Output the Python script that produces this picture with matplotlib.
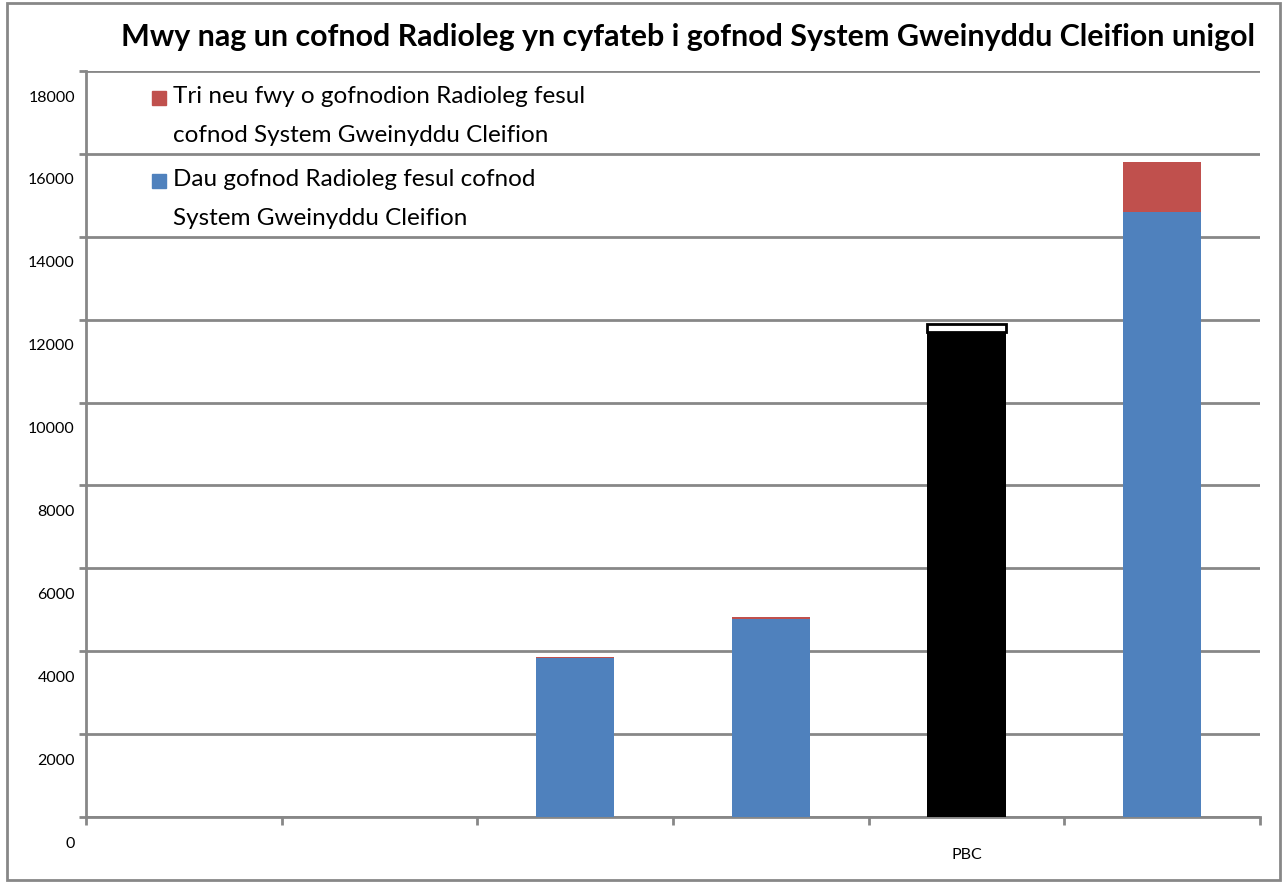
import numpy as np
import matplotlib.pyplot as plt
import matplotlib.transforms as mtransforms
from matplotlib.patches import Rectangle

plt.rcParams['font.family'] = ['Lato', 'DejaVu Sans']

# Data
categories = ["", "", "", "", "PBC", ""]
dau_gofnod = [0, 0, 3840, 4780, 11700, 14600]   # two radiology records per PAS record
tri_neu_fwy = [0, 0, 30, 50, 190, 1200]          # three or more radiology records
series_names = ["Tri neu fwy o gofnodion Radioleg fesul\ncofnod System Gweinyddu Cleifion",
                "Dau gofnod Radioleg fesul cofnod\nSystem Gweinyddu Cleifion"]
title = "Mwy nag un cofnod Radioleg yn cyfateb i gofnod System Gweinyddu Cleifion unigol"

blue = '#4F81BD'
red = '#C0504D'
grey = '#878787'

fig = plt.figure(figsize=(12.84, 8.83), dpi=100)
ax = fig.add_axes([86/1284, 1 - 817/883, (1260 - 86)/1284, (817 - 71)/883])

x = np.arange(len(categories))
# the PBC bar is picked out in black, with its top segment left white
bottom_colors = [blue, blue, blue, blue, 'black', blue]
top_colors = [red, red, red, red, 'white', red]
top_edges = ['none', 'none', 'none', 'none', 'black', 'none']
top_lw = [0, 0, 0, 0, 2, 0]

ax.bar(x, dau_gofnod, width=0.4, color=bottom_colors, zorder=3)
ax.bar(x, tri_neu_fwy, width=0.4, bottom=dau_gofnod, color=top_colors,
       edgecolor=top_edges, linewidth=top_lw, zorder=3)

ax.set_xlim(-0.5, len(categories) - 0.5)
ax.set_ylim(0, 18000)

# y axis: gridlines every 2000, labels sit a little below their line
ax.set_yticks(np.arange(0, 18001, 2000))
ax.set_yticklabels([str(v) for v in range(0, 18001, 2000)], fontsize=11.5)
ax.yaxis.grid(True, color=grey, linewidth=2, zorder=0)
ax.tick_params(axis='y', length=5, width=2, color=grey, pad=3)
shift = mtransforms.ScaledTranslation(0, -0.25, fig.dpi_scale_trans)
for lab in ax.get_yticklabels():
    lab.set_transform(lab.get_transform() + shift)

# x axis: tick marks between categories, labels under the bars
ax.set_xticks(np.arange(-0.5, len(categories), 1.0))
ax.set_xticklabels([])
ax.set_xticks(x, minor=True)
ax.set_xticklabels(categories, minor=True, fontsize=11.5)
ax.tick_params(axis='x', which='major', length=6, width=2, color=grey, direction='out')
ax.tick_params(axis='x', which='minor', length=0, pad=22)

for side in ['top', 'right']:
    ax.spines[side].set_visible(False)
for side in ['left', 'bottom']:
    ax.spines[side].set_color(grey)
    ax.spines[side].set_linewidth(2)

# legend drawn by hand, red entry first
leg_colors = [red, blue]
leg_y = [97, 180]
for name, c, yy in zip(series_names, leg_colors, leg_y):
    fig.patches.append(Rectangle((152/1284, 1 - (yy + 8)/883), 14/1284, 14/883,
                                 transform=fig.transFigure, color=c))
    fig.text(173/1284, 1 - (yy - 11)/883, name, fontsize=17.5, va='top',
             linespacing=2.05)

fig.text(688/1284, 1 - 37/883, title, fontsize=21.9, fontweight='bold',
         ha='center', va='center')

# grey frame round the whole chart
fig.patches.append(Rectangle((7/1284, 3/883), 1273/1284, 877/883, transform=fig.transFigure,
                             fill=False, edgecolor=grey, linewidth=2))

fig.savefig('out.png', dpi=100)
